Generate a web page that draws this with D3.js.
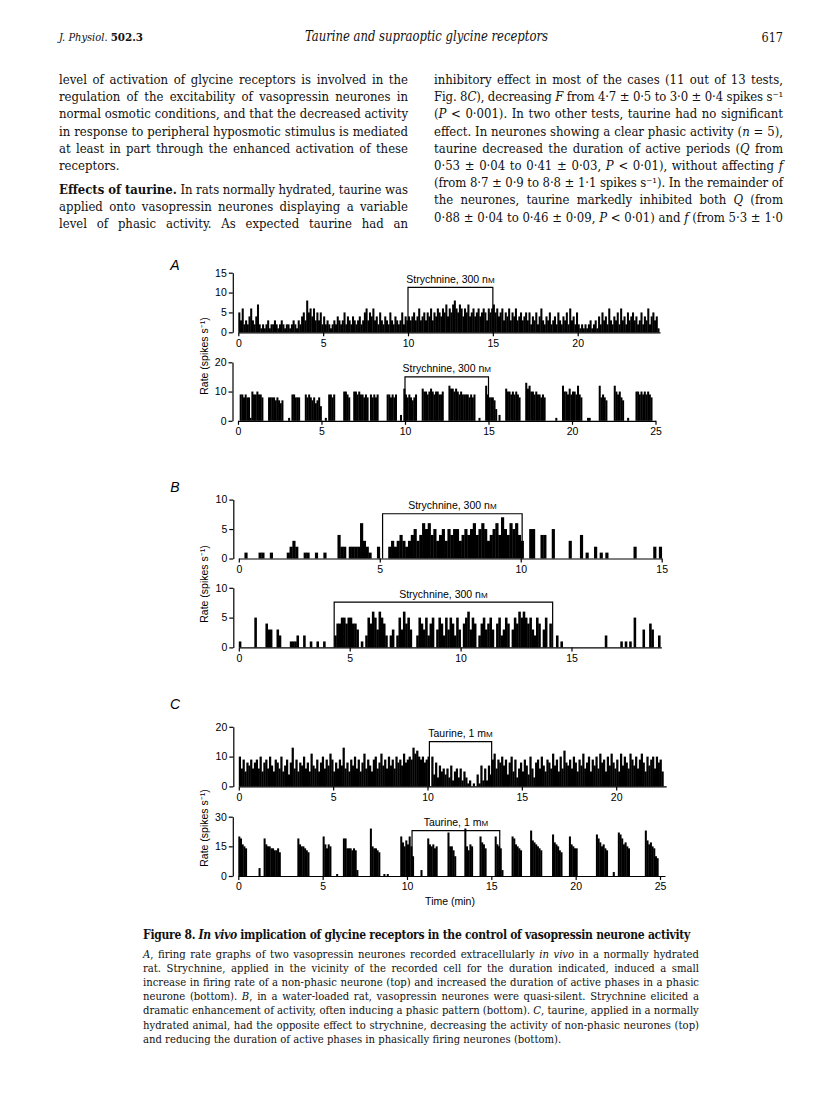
<!DOCTYPE html>
<html>
<head>
<meta charset="utf-8">
<script src="https://cdn.jsdelivr.net/npm/d3@7"></script>
<style>
  body { margin: 0; background: #fff; }
  svg { display: block; }
  .serif { font-family: "DejaVu Serif", "Liberation Serif", serif; font-stretch: condensed; fill: #111; white-space: pre; }
  .sans { font-family: "Liberation Sans", Arial, sans-serif; fill: #000; }
</style>
</head>
<body>
<svg id="page" width="816" height="1110"></svg>
<script>
// bin width of the rate histograms (min)
const binMin = 0.1;

// A, top: non-phasic neurone, strychnine
const aTop = [
  5,3,6,2,3,2,4,6,3,2, 4,7,2,1,2,1,2,3,1,2, 2,3,2,1,2,3,2,1,2,2, 1,2,3,2,1,3,2,4,5,3,
  8,5,6,4,6,3,5,3,5,2, 4,2,3,2,1,2,3,2,4,3, 2,3,5,2,4,3,2,4,3,2, 3,4,2,3,5,6,3,5,4,6,
  3,4,2,5,3,2,4,3,2,5, 3,2,4,3,2,3,5,2,4,3, 4,3,4,5,3,4,6,3,4,5, 3,5,4,6,3,5,4,6,5,4,
  6,5,7,4,6,5,7,8,6,5, 7,6,4,6,5,7,4,5,6,4, 5,6,4,5,6,5,3,6,5,6, 7,5,6,4,5,6,3,5,4,6,
  3,5,4,6,3,4,5,3,4,5, 3,5,2,4,3,5,2,4,6,3, 2,4,3,5,2,3,4,2,5,3, 2,4,3,5,2,6,3,4,2,5,
  2,1,2,1,2,1,2,3,1,2, 3,1,4,2,5,3,4,2,6,3, 2,4,3,5,2,6,3,4,2,5, 3,4,5,3,4,2,3,5,2,4,
  3,6,2,4,5,3,4,1
];
// A, bottom: phasic neurone, strychnine
const aBottom = [
  0,9,9,8,9,8,8,1,10,9, 9,10,9,9,8,0,0,0,8,8, 8,8,7,8,7,6,7,0,0,0, 1,0,9,9,8,8,8,0,0,0,
  9,8,9,8,7,8,6,7,8,5, 0,0,1,0,9,9,8,9,0,0, 0,0,0,10,10,9,8,0,0,10, 10,9,10,9,9,8,9,8,0,9,
  8,9,8,9,0,0,0,0,0,9, 9,8,9,8,9,0,0,2,0,11, 9,8,9,8,7,8,9,0,0,0, 11,10,10,9,10,11,10,9,10,10,
  9,9,10,0,0,0,12,11,11,10, 11,10,9,10,9,9,9,9,8,9, 8,9,0,0,1,0,0,0,12,9, 8,8,8,7,4,0,2,0,0,0,
  11,10,10,9,10,9,10,9,8,0, 0,0,13,11,12,10,10,9,10,9, 9,8,9,8,0,0,0,0,0,0, 1,0,0,0,12,10,10,9,11,9,
  10,10,9,12,9,8,0,0,0,1, 1,0,0,0,0,0,12,8,9,8, 7,0,0,0,0,12,10,9,10,8, 7,0,0,1,0,0,0,0,10,10,
  9,10,9,10,9,10,9,8
];
// B, top: water-loaded rat, strychnine
const bTop = [
  0,0,1,0,0,0,0,1,1,0, 0,1,0,0,0,0,0,1,2,3, 2,0,0,1,1,0,0,1,0,0, 1,0,0,0,0,4,2,2,0,2,
  2,2,2,6,3,2,1,0,0,2, 0,0,0,2,3,2,3,4,3,2, 3,4,5,3,4,6,5,6,4,5, 3,4,5,3,5,4,5,5,3,4,
  5,4,5,6,4,5,6,5,3,4, 5,6,4,7,5,4,6,5,6,4, 3,0,0,5,5,0,0,4,4,0, 0,5,0,0,0,0,0,3,0,0,
  0,4,0,1,0,0,2,0,1,0, 1,0,0,0,0,0,0,0,0,0, 2,0,0,0,0,0,0,2,0,2
];
// B, bottom
const bBottom = [
  1,0,0,0,0,0,0,5,0,0, 0,0,4,3,3,0,0,3,2,0, 0,0,0,1,1,1,2,0,0,2, 0,0,1,0,0,1,0,0,1,0,
  0,0,0,2,4,4,5,5,4,5, 5,4,4,3,0,1,0,2,5,4, 6,5,3,6,5,4,2,0,2,3, 0,2,5,3,6,4,5,3,0,0,
  2,5,4,3,5,2,4,5,0,3, 5,4,2,5,3,5,4,2,5,3, 0,4,5,6,3,5,4,0,2,4, 5,3,4,5,3,0,4,5,2,3,
  5,4,0,3,5,4,6,5,6,5, 4,5,3,2,5,4,0,3,5,0, 4,0,0,2,0,1,0,0,0,0, 0,0,0,0,0,0,0,0,0,0,
  0,0,0,0,0,2,0,0,0,0, 0,0,1,0,1,0,1,0,5,0, 0,0,3,0,0,4,3,0,0,2
];
// C, top: non-phasic neurone, taurine
const cTop = [
  10,6,9,5,8,7,9,6,8,9, 6,10,5,8,9,6,10,7,5,9, 8,6,10,5,7,9,4,8,13,6, 9,5,8,7,10,6,8,5,11,7,
  6,9,5,8,10,6,9,7,11,9, 5,8,6,9,7,13,6,8,5,9, 7,10,6,9,5,8,11,6,9,7, 5,9,10,6,8,11,7,9,6,10,
  7,9,6,10,8,9,7,11,8,9, 10,9,13,11,12,10,9,10,8,9, 10,0,10,4,8,3,7,5,6,4, 6,3,7,2,5,6,3,6,2,5,
  3,1,2,0,1,0,4,1,7,2, 6,2,7,4,9,11,6,9,8,10, 7,9,4,8,10,5,9,3,6,8, 5,9,7,4,10,6,3,8,9,6,
  10,7,5,9,8,6,11,7,9,5, 10,6,12,8,7,9,6,10,8,5, 9,7,11,6,8,10,5,9,7,10, 6,11,8,9,5,10,7,11,8,6,
  9,5,11,7,10,8,6,11,9,7, 10,6,9,11,8,5,10,7,9,10, 6,10,8,9,5,0
];
// C, bottom: phasic neurone, taurine
const cBottom = [
  20,19,16,15,14,0,0,0,0,0, 0,0,4,0,0,19,16,15,15,14, 14,13,13,14,12,0,0,0,0,0, 0,0,0,0,0,19,16,15,15,14,
  13,12,0,0,0,0,0,0,0,0, 20,16,14,16,15,0,0,0,1,0, 0,0,19,19,14,14,14,13,14,13, 3,0,0,0,0,0,0,0,24,15,
  14,14,13,12,0,0,1,0,1,0, 0,0,0,0,0,0,20,17,15,18, 16,20,15,10,0,0,0,0,3,0, 0,0,19,16,15,16,14,15,0,0,
  0,0,0,0,22,15,15,13,10,0, 0,0,0,0,24,15,13,16,15,0, 0,0,0,20,17,16,14,0,0,0, 0,0,20,16,15,14,3,0,0,0,
  0,0,20,19,16,15,14,13,0,0, 0,0,0,23,18,17,16,15,14,13, 0,0,0,0,0,0,21,17,16,15, 13,12,0,0,0,0,20,16,15,14,
  14,0,0,0,0,0,0,0,0,0, 0,0,21,19,17,15,16,14,13,0, 0,0,2,0,0,22,21,19,16,17, 15,14,0,0,0,0,0,0,0,0,
  0,23,18,16,17,15,14,10,9,0
];

// drug periods [start, end, bracket level]
const aTopDrug = [10, 15, 11.3];
const aBottomDrug = [10, 15, 15];
const bTopDrug = [5.1, 10.05, 7.6];
const bBottomDrug = [4.3, 14.15, 7.6];
const cTopDrug = [10.1, 13.4, 15];
const cBottomDrug = [10.3, 15.5, 23];

const strychLabel = ["Strychnine, 300 n", "M"];
const taurLabel = ["Taurine, 1 m", "M"];

const headerLeft = ["J. Physiol.", "502.3"];
const headerTitle = "Taurine and supraoptic glycine receptors";
const headerPage = "617";

const leftLines = [
  "level of activation of glycine receptors is involved in the",
  "regulation of the excitability of vasopressin neurones in",
  "normal osmotic conditions, and that the decreased activity",
  "in response to peripheral hyposmotic stimulus is mediated",
  "at least in part through the enhanced activation of these",
  "receptors.",
  "**Effects of taurine.** In rats normally hydrated, taurine was",
  "applied onto vasopressin neurones displaying a variable",
  "level of phasic activity. As expected taurine had an"
];
const rightLines = [
  "inhibitory effect in most of the cases (11 out of 13 tests,",
  "Fig. 8*C*), decreasing *F* from 4·7 ± 0·5 to 3·0 ± 0·4 spikes s\u207B\u00B9",
  "(*P* < 0·001). In two other tests, taurine had no significant",
  "effect. In neurones showing a clear phasic activity (*n* = 5),",
  "taurine decreased the duration of active periods (*Q* from",
  "0·53 ± 0·04 to 0·41 ± 0·03, *P* < 0·01), without affecting *f*",
  "(from 8·7 ± 0·9 to 8·8 ± 1·1 spikes s\u207B\u00B9). In the remainder of",
  "the neurones, taurine markedly inhibited both *Q* (from",
  "0·88 ± 0·04 to 0·46 ± 0·09, *P* < 0·01) and *f* (from 5·3 ± 1·0"
];
const captionTitle = "**Figure 8.** ***In vivo*** **implication of glycine receptors in the control of vasopressin neurone activity**";
const captionLines = [
  "*A*, firing rate graphs of two vasopressin neurones recorded extracellularly *in vivo* in a normally hydrated",
  "rat. Strychnine, applied in the vicinity of the recorded cell for the duration indicated, induced a small",
  "increase in firing rate of a non-phasic neurone (top) and increased the duration of active phases in a phasic",
  "neurone (bottom). *B*, in a water-loaded rat, vasopressin neurones were quasi-silent. Strychnine elicited a",
  "dramatic enhancement of activity, often inducing a phasic pattern (bottom). *C*, taurine, applied in a normally",
  "hydrated animal, had the opposite effect to strychnine, decreasing the activity of non-phasic neurones (top)",
  "and reducing the duration of active phases in phasically firing neurones (bottom)."
];

const svg = d3.select("#page");
svg.append("rect").attr("width", 816).attr("height", 1110).attr("fill", "#fff");

// one line of serif text, *italic*, **bold**, ***bold italic***
function textLine(parent, str, x, y, width, size, justify) {
  const t = parent.append("text").attr("class", "serif")
    .attr("x", x).attr("y", y).style("font-size", size + "px");
  str.split(/(\*\*\*[^*]+\*\*\*|\*\*[^*]+\*\*|\*[^*]+\*)/).filter(s => s).forEach(s => {
    let txt = s, it = false, bd = false;
    if (s.startsWith("***")) { txt = s.slice(3, -3); it = bd = true; }
    else if (s.startsWith("**")) { txt = s.slice(2, -2); bd = true; }
    else if (s.startsWith("*")) { txt = s.slice(1, -1); it = true; }
    const ts = t.append("tspan").text(txt);
    if (it) ts.style("font-style", "italic");
    if (bd) ts.style("font-weight", "bold");
  });
  let len = t.node().getComputedTextLength();
  const nChars = str.replace(/\*/g, "").length;
  // squeeze letters a little when the line is too long
  if (len > width) {
    t.style("letter-spacing", ((width - len) / nChars) + "px");
    len = t.node().getComputedTextLength();
  }
  if (justify) {
    const spaces = (str.match(/ /g) || []).length;
    if (spaces && Math.abs(width - len) > 0.2) t.style("word-spacing", ((width - len) / spaces) + "px");
  }
  return t;
}

// running head
const head = svg.append("text").attr("class", "serif").attr("x", 59).attr("y", 41);
head.append("tspan").style("font-style", "italic").style("font-size", "11px").text(headerLeft[0] + " ");
head.append("tspan").style("font-weight", "bold").style("font-size", "11.5px").text(headerLeft[1]);
svg.append("text").attr("class", "serif").attr("x", 305).attr("y", 41)
  .style("font-style", "italic").style("font-size", "14px")
  .attr("textLength", 243).attr("lengthAdjust", "spacingAndGlyphs").text(headerTitle);
svg.append("text").attr("class", "serif").attr("x", 783).attr("y", 42)
  .attr("text-anchor", "end").style("font-size", "12.5px").text(headerPage);

// body text, two columns
const body = svg.append("g");
leftLines.forEach((s, i) => {
  const yb = i < 6 ? 84 + i * 17.2 : 193.5 + (i - 6) * 17.2;
  textLine(body, s, 59, yb, 349, 13, i !== 5);
});
rightLines.forEach((s, i) => textLine(body, s, 434, 84 + i * 17.2, 349, 13, true));

// firing rate panels
const panels = [
  { v: aTop, xd: [0, 20], xr: [238.3, 577.7], xEnd: 24.85, xt: [0, 5, 10, 15, 20],
    yd: [0, 15], yr: [332.3, 272.7], yt: [0, 5, 10, 15], drug: aTopDrug, lab: strychLabel },
  { v: aBottom, xd: [0, 25], xr: [238, 655.5], xEnd: 25, xt: [0, 5, 10, 15, 20, 25],
    yd: [0, 20], yr: [420.8, 362.3], yt: [0, 10, 20], drug: aBottomDrug, lab: strychLabel },
  { v: bTop, xd: [0, 15], xr: [238.8, 661.7], xEnd: 15, xt: [0, 5, 10, 15],
    yd: [0, 10], yr: [558.5, 499.6], yt: [0, 5, 10], drug: bTopDrug, lab: strychLabel },
  { v: bBottom, xd: [0, 15], xr: [238.8, 571.5], xEnd: 19.05, xt: [0, 5, 10, 15],
    yd: [0, 10], yr: [647.4, 587.8], yt: [0, 5, 10], drug: bBottomDrug, lab: strychLabel },
  { v: cTop, xd: [0, 20], xr: [238.8, 616.2], xEnd: 22.65, xt: [0, 5, 10, 15, 20],
    yd: [0, 20], yr: [786.4, 726.8], yt: [0, 10, 20], drug: cTopDrug, lab: taurLabel },
  { v: cBottom, xd: [0, 25], xr: [238.3, 660], xEnd: 25.3, xt: [0, 5, 10, 15, 20, 25],
    yd: [0, 30], yr: [876, 816.7], yt: [0, 15, 30], drug: cBottomDrug, lab: taurLabel }
];

panels.forEach(p => {
  const g = svg.append("g");
  const x = d3.scaleLinear().domain(p.xd).range(p.xr);
  const y = d3.scaleLinear().domain(p.yd).range(p.yr);
  const bw = x(binMin) - x(0);

  g.append("g").selectAll("rect")
    .data(p.v.map((d, i) => ({ t: i * binMin, r: d })).filter(d => d.r > 0))
    .join("rect")
      .attr("x", d => x(d.t))
      .attr("y", d => y(d.r))
      .attr("width", bw + 0.35)
      .attr("height", d => y(0) - y(d.r))
      .attr("fill", "#000");

  const xa = d3.scaleLinear().domain([0, p.xEnd]).range([x(0), x(p.xEnd)]);
  const gx = g.append("g")
    .attr("transform", `translate(0, ${y(0)})`)
    .call(d3.axisBottom(xa).tickValues(p.xt).tickSize(4).tickSizeOuter(0).tickPadding(3));
  const gy = g.append("g")
    .attr("transform", `translate(${x(0) - 5.5}, 0)`)
    .call(d3.axisLeft(y).tickValues(p.yt).tickSize(4).tickSizeOuter(0).tickPadding(2));
  [gx, gy].forEach(a => {
    a.selectAll("path, line").attr("stroke", "#000").attr("stroke-width", 1.2);
    a.selectAll("text").attr("class", "sans").style("font-size", "10.5px").attr("fill", "#000");
  });

  // drug application bracket
  const [d0, d1, lvl] = p.drug;
  g.append("path")
    .attr("d", `M${x(d0)},${y(0)}V${y(lvl)}H${x(d1)}V${y(0)}`)
    .attr("fill", "none").attr("stroke", "#000").attr("stroke-width", 1.2);
  const lt = g.append("text").attr("class", "sans")
    .attr("x", (x(d0) + x(d1)) / 2).attr("y", y(lvl) - 4.5)
    .attr("text-anchor", "middle").style("font-size", "10.5px");
  lt.append("tspan").text(p.lab[0]);
  lt.append("tspan").style("font-size", "8px").text(p.lab[1]);
});

// panel letters and axis titles
const panelLetters = [["A", 265, 356], ["B", 487, 584], ["C", 704, 828]];
panelLetters.forEach(([L, ly, ty]) => {
  svg.append("text").attr("class", "sans").attr("x", 175).attr("y", ly)
    .attr("text-anchor", "middle").attr("dominant-baseline", "central")
    .style("font-style", "italic").style("font-size", "14px").text(L);
  svg.append("text").attr("class", "sans")
    .attr("transform", `translate(204, ${ty}) rotate(-90)`)
    .attr("text-anchor", "middle").attr("dominant-baseline", "central")
    .style("font-size", "10.5px").text("Rate (spikes s\u207B\u00B9)");
});
svg.append("text").attr("class", "sans").attr("x", 450).attr("y", 901)
  .attr("text-anchor", "middle").attr("dominant-baseline", "central")
  .style("font-size", "10.5px").text("Time (min)");

// caption
const cap = svg.append("g");
textLine(cap, captionTitle, 143, 939, 547, 12, true);
captionLines.forEach((s, i) => textLine(cap, s, 143, 957.5 + i * 14.2, 556, 11.2, i < captionLines.length - 1));
</script>
</body>
</html>
